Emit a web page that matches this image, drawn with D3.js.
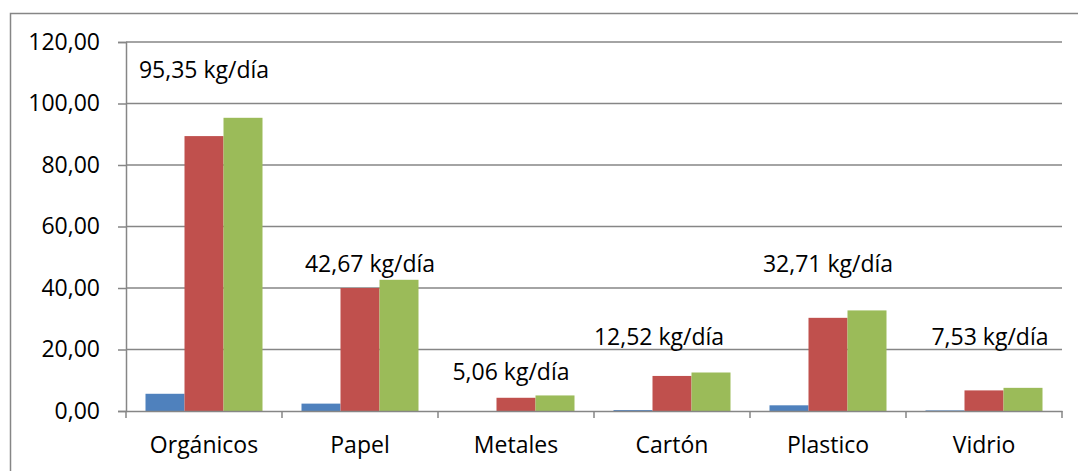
<!DOCTYPE html>
<html>
<head>
<meta charset="utf-8">
<script src="https://cdn.jsdelivr.net/npm/d3@7"></script>
<style>
  body { margin: 0; background: #fff; }
  text { font-family: "Open Sans", sans-serif; fill: #000; }
</style>
</head>
<body>
<div id="chart"></div>
<script>
// residue categories and the three series (kg/día)
var categories = ["Orgánicos", "Papel", "Metales", "Cartón", "Plastico", "Vidrio"];
var serie1 = [5.6, 2.4, 0, 0.3, 1.85, 0.2];
var serie2 = [89.4, 40.0, 4.3, 11.4, 30.3, 6.7];
var serie3 = [95.35, 42.67, 5.06, 12.52, 32.71, 7.53];
var labels = ["95,35 kg/día", "42,67 kg/día", "5,06 kg/día", "12,52 kg/día", "32,71 kg/día", "7,53 kg/día"];
var yTicks = [0, 20, 40, 60, 80, 100, 120];

// hand placed text boxes: offset from band centre (px) and baseline in data units
var labelDx = [0, 10, -5, -13, 0, 6];
var labelAt = [108.3, 45.2, 10.1, 21.5, 45.2, 21.5];

var colors = ["#4F81BD", "#C0504D", "#9BBB59"];
var series = [serie1, serie2, serie3];

var svgWidth = 1078, svgHeight = 471;
var margin = { top: 42, left: 126, right: 16, bottom: 60 };
var width = 1062 - margin.left;
var height = 411 - margin.top;

var svg = d3.select("#chart").append("svg")
  .attr("width", svgWidth)
  .attr("height", svgHeight);

// outer chart border
svg.append("rect")
  .attr("x", 10.5).attr("y", 13.5)
  .attr("width", 1100).attr("height", 500)
  .attr("fill", "none")
  .attr("stroke", "#868686")
  .attr("stroke-width", 1.5);

var g = svg.append("g")
  .attr("transform", `translate(${margin.left}, ${margin.top})`);

var x0 = d3.scaleBand().domain(categories).range([0, width]).paddingInner(0).paddingOuter(0);
var x1 = d3.scaleBand().domain([0, 1, 2]).range([x0.bandwidth() * 0.125, x0.bandwidth() * 0.875]);
var y = d3.scaleLinear().domain([0, 120]).range([height, 0]);

// gridlines
g.append("g").selectAll("line")
  .data(yTicks.slice(1))
  .enter().append("line")
  .attr("x1", 0).attr("x2", width)
  .attr("y1", d => y(d)).attr("y2", d => y(d))
  .attr("stroke", "#868686")
  .attr("stroke-width", 1.5);

// bars
var groups = g.selectAll(".cat")
  .data(categories)
  .enter().append("g")
  .attr("transform", d => `translate(${x0(d)},0)`);

groups.selectAll("rect")
  .data((d, i) => series.map((s, k) => ({ k: k, v: s[i] })))
  .enter().append("rect")
  .attr("x", d => x1(d.k))
  .attr("width", x1.bandwidth())
  .attr("y", d => y(d.v))
  .attr("height", d => y(0) - y(d.v))
  .attr("fill", d => colors[d.k]);

// y axis
var yAxis = g.append("g")
  .call(d3.axisLeft(y).tickValues(yTicks).tickSize(8).tickPadding(18)
    .tickFormat(d => d3.format(".2f")(d).replace(".", ",")));
yAxis.select(".domain").attr("stroke", "#868686").attr("stroke-width", 1.5);
yAxis.selectAll(".tick line").attr("stroke", "#868686").attr("stroke-width", 1.5);
yAxis.selectAll("text").attr("font-size", 23).attr("font-family", "Open Sans").attr("fill", "#000");

// x axis
var xAxis = g.append("g")
  .attr("transform", `translate(0, ${height})`)
  .call(d3.axisBottom(x0).tickSize(0).tickPadding(0));
xAxis.select(".domain").attr("stroke", "#868686").attr("stroke-width", 1.5);
xAxis.selectAll("text").remove();
xAxis.selectAll(".tick line").remove();

// category separators
g.append("g").selectAll("line")
  .data(categories.concat(["end"]))
  .enter().append("line")
  .attr("x1", (d, i) => i * x0.bandwidth()).attr("x2", (d, i) => i * x0.bandwidth())
  .attr("y1", height).attr("y2", height + 7)
  .attr("stroke", "#868686").attr("stroke-width", 1.5);

g.append("g").selectAll("text")
  .data(categories)
  .enter().append("text")
  .attr("x", d => x0(d) + x0.bandwidth() / 2)
  .attr("y", height + 42)
  .attr("text-anchor", "middle")
  .attr("font-size", 23)
  .text(d => d);

// value text boxes
g.append("g").selectAll("text")
  .data(labels)
  .enter().append("text")
  .attr("x", (d, i) => x0(categories[i]) + x0.bandwidth() / 2 + labelDx[i])
  .attr("y", (d, i) => y(labelAt[i]))
  .attr("text-anchor", "middle")
  .attr("font-size", 23)
  .text(d => d);
</script>
</body>
</html>
